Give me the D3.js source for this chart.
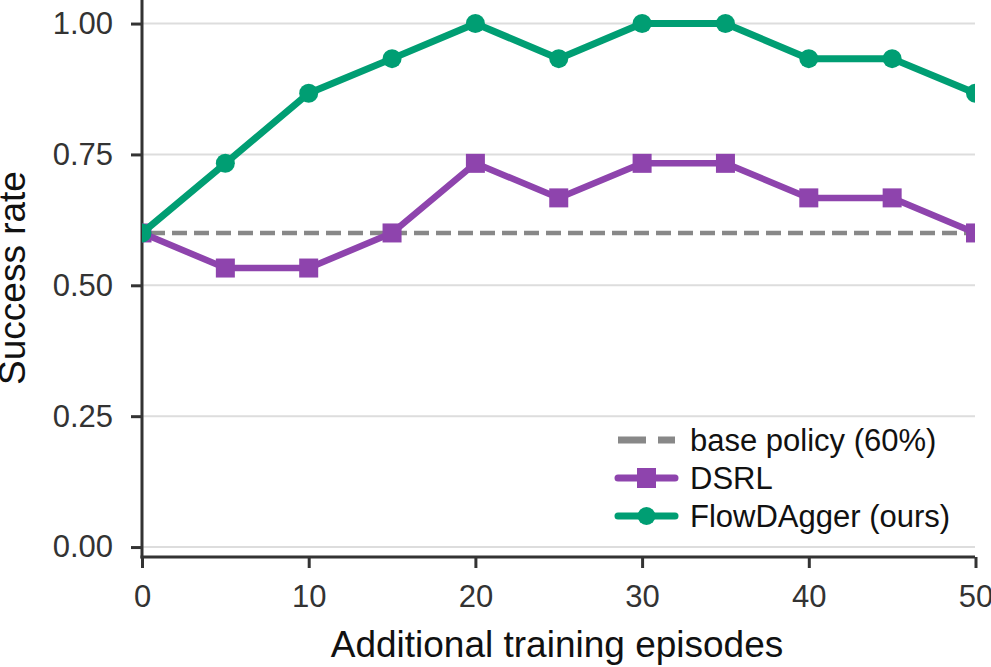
<!DOCTYPE html>
<html>
<head>
<meta charset="utf-8">
<script src="https://cdn.jsdelivr.net/npm/d3@7"></script>
<style>
  body { margin: 0; background: #fff; }
  svg { font-family: "Liberation Sans", Arial, sans-serif; }
  .grid line { stroke: #dddddd; stroke-width: 2; }
  .axis path, .axis line { stroke: #333; stroke-width: 3; }
  .axis text { fill: #333; font-size: 31px; font-family: "Liberation Sans", Arial, sans-serif; }
</style>
</head>
<body>
<svg id="chart" width="991" height="667"></svg>
<script>
// data
const episodes = [0, 5, 10, 15, 20, 25, 30, 35, 40, 45, 50];
const dsrl = [0.6, 0.533, 0.533, 0.6, 0.733, 0.667, 0.733, 0.733, 0.667, 0.667, 0.6];
const flowDagger = [0.6, 0.733, 0.867, 0.933, 1.0, 0.933, 1.0, 1.0, 0.933, 0.933, 0.867];
const basePolicy = 0.6;
const xTicks = [0, 10, 20, 30, 40, 50];
const yTicks = [0, 0.25, 0.5, 0.75, 1.0];

const margin = {top: 0, right: 16, bottom: 110, left: 142};
const width = 991 - margin.left - margin.right;
const height = 667 - margin.top - margin.bottom;

const svg = d3.select('#chart');
const chart = svg.append('g').attr('transform', 'translate(' + margin.left + ',' + margin.top + ')');

const x = d3.scaleLinear().domain([0, 50]).range([0, width + 0.5]);
const y = d3.scaleLinear().domain([-0.019, 1.045]).range([height, 0]);

chart.append('defs').append('clipPath').attr('id', 'clip')
  .append('rect').attr('width', width).attr('height', height);

// grid
chart.append('g').attr('class', 'grid')
  .selectAll('line').data(yTicks).enter().append('line')
  .attr('x1', 0).attr('x2', width)
  .attr('y1', d => y(d)).attr('y2', d => y(d));

// axes
const xAxis = chart.append('g').attr('class', 'x axis')
  .attr('transform', 'translate(0,' + height + ')')
  .call(d3.axisBottom(x).tickValues(xTicks).tickSize(11).tickPadding(17).tickSizeOuter(0));
const yAxis = chart.append('g').attr('class', 'y axis')
  .call(d3.axisLeft(y).tickValues(yTicks).tickFormat(d3.format('.2f')).tickSize(11).tickPadding(18).tickSizeOuter(0));
xAxis.select('.domain').attr('d', 'M-1.5,0H' + width);
yAxis.select('.domain').attr('d', 'M0,' + (height + 1.5) + 'V0');
svg.selectAll('.axis text').attr('font-size', null).attr('font-family', null);

const plot = chart.append('g').attr('clip-path', 'url(#clip)');

// base policy
plot.append('line')
  .attr('x1', 0).attr('x2', width)
  .attr('y1', y(basePolicy)).attr('y2', y(basePolicy))
  .attr('stroke', '#888').attr('stroke-width', 4.5).attr('stroke-dasharray', '15,7')
  .attr('stroke-dashoffset', -8);

const line = d3.line().x((d, i) => x(episodes[i])).y(d => y(d));

// DSRL
plot.append('path').datum(dsrl)
  .attr('d', line).attr('fill', 'none')
  .attr('stroke', '#8e44ad').attr('stroke-width', 6.5);
plot.selectAll('.sq').data(dsrl).enter().append('rect')
  .attr('class', 'sq')
  .attr('x', (d, i) => x(episodes[i]) - 9.5).attr('y', d => y(d) - 9.5)
  .attr('width', 19).attr('height', 19).attr('fill', '#8e44ad');

// FlowDAgger
plot.append('path').datum(flowDagger)
  .attr('d', line).attr('fill', 'none')
  .attr('stroke', '#009e73').attr('stroke-width', 7);
plot.selectAll('.dot').data(flowDagger).enter().append('circle')
  .attr('class', 'dot')
  .attr('cx', (d, i) => x(episodes[i])).attr('cy', d => y(d))
  .attr('r', 9.5).attr('fill', '#009e73');

// axis titles
svg.append('text')
  .attr('x', 557).attr('y', 657)
  .attr('text-anchor', 'middle').attr('font-size', 37).attr('fill', '#111')
  .text('Additional training episodes');
svg.append('text')
  .attr('transform', 'translate(25,278) rotate(-90)')
  .attr('text-anchor', 'middle').attr('font-size', 37).attr('fill', '#111')
  .text('Success rate');

// legend
const legend = svg.append('g').attr('transform', 'translate(615,440)');
const items = [
  {label: 'base policy (60%)', color: '#888', dash: '28,12', mark: null},
  {label: 'DSRL', color: '#8e44ad', dash: null, mark: 'square'},
  {label: 'FlowDAgger (ours)', color: '#009e73', dash: null, mark: 'circle'}
];
items.forEach((it, i) => {
  const g = legend.append('g').attr('transform', 'translate(0,' + (i * 38) + ')');
  g.append('line')
    .attr('x1', 3).attr('x2', 60).attr('y1', 0).attr('y2', 0)
    .attr('stroke', it.color).attr('stroke-width', 7)
    .attr('stroke-linecap', it.dash ? 'butt' : 'round')
    .attr('stroke-dasharray', it.dash);
  if (it.mark === 'square') {
    g.append('rect').attr('x', 22).attr('y', -10).attr('width', 19).attr('height', 20).attr('fill', it.color);
  } else if (it.mark === 'circle') {
    g.append('circle').attr('cx', 31.5).attr('cy', 0).attr('r', 9).attr('fill', it.color);
  }
  g.append('text').attr('x', 75).attr('y', 11)
    .attr('font-size', 31).attr('fill', '#111').text(it.label);
});
</script>
</body>
</html>
